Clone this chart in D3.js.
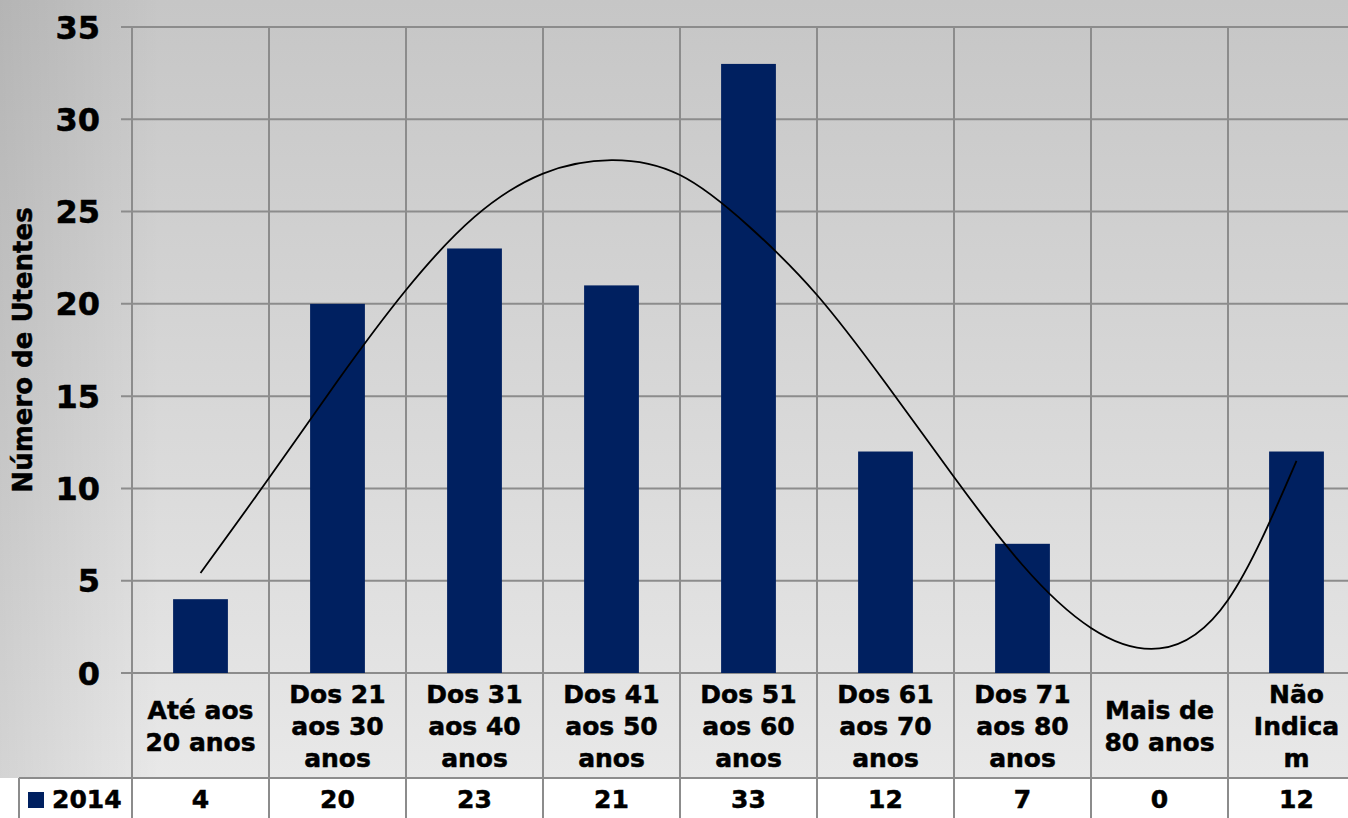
<!DOCTYPE html>
<html>
<head>
<meta charset="utf-8">
<script src="https://cdn.jsdelivr.net/npm/d3@7"></script>
<style>
  html, body { margin: 0; padding: 0; background: #fff; }
  svg { display: block; font-family: "DejaVu Sans", Verdana, sans-serif; font-weight: bold; }
  svg text { stroke: #000; stroke-width: 0.5px; }
</style>
</head>
<body>
<svg id="chart" width="1348" height="818"></svg>
<script>
// dados
const categories = [
    ["Até aos", "20 anos"],
    ["Dos 21", "aos 30", "anos"],
    ["Dos 31", "aos 40", "anos"],
    ["Dos 41", "aos 50", "anos"],
    ["Dos 51", "aos 60", "anos"],
    ["Dos 61", "aos 70", "anos"],
    ["Dos 71", "aos 80", "anos"],
    ["Mais de", "80 anos"],
    ["Não", "Indica", "m"]
];
const seriesName = "2014";
const values2014 = [4, 20, 23, 21, 33, 12, 7, 0, 12];
const yTicks = [0, 5, 10, 15, 20, 25, 30, 35];
const yTitle = "Número de Utentes";

// linha de tendência (posição em categorias, valor)
const trendPos = [0, 0.5, 1, 1.5, 2, 2.5, 3, 3.5, 4, 4.5, 5, 5.5, 6, 6.5, 7, 7.5, 8];
const trendVals = [5.42, 10.56, 15.82, 20.75, 24.71, 27.06, 27.79, 26.98, 24.22,
                   20.48, 15.71, 10.62, 5.85, 2.44, 1.33, 3.96, 11.49];

function drawChart(svgId) {
    const svg = d3.select(`#${svgId}`);
    const width = +svg.attr("width");
    const height = +svg.attr("height");

    const plotLeft = 132, plotTop = 27, plotBottom = 673;
    const catStep = 137;
    const tableTop = 778;
    const tableLeft = 19;
    const gridColor = "#8c8c8c";

    const defs = svg.append("defs");
    const bg = defs.append("linearGradient").attr("id", "bgGrad")
        .attr("x1", 0).attr("y1", 0).attr("x2", 0).attr("y2", 1);
    bg.append("stop").attr("offset", "0%").attr("stop-color", "#c6c6c6");
    bg.append("stop").attr("offset", "100%").attr("stop-color", "#e8e8e8");
    const side = defs.append("linearGradient").attr("id", "sideGrad")
        .attr("x1", 0).attr("y1", 0).attr("x2", 1).attr("y2", 0);
    side.append("stop").attr("offset", "0%").attr("stop-color", "#000").attr("stop-opacity", 0.09);
    side.append("stop").attr("offset", "100%").attr("stop-color", "#000").attr("stop-opacity", 0);

    // fundo
    svg.append("rect").attr("x", 0).attr("y", 0).attr("width", width).attr("height", tableTop)
        .attr("fill", "url(#bgGrad)");
    svg.append("rect").attr("x", 0).attr("y", 0).attr("width", 160).attr("height", tableTop)
        .attr("fill", "url(#sideGrad)");
    svg.append("rect").attr("x", 0).attr("y", tableTop).attr("width", width).attr("height", height - tableTop)
        .attr("fill", "#fff");

    const x = d3.scaleBand()
        .domain(d3.range(categories.length))
        .range([plotLeft, plotLeft + catStep * categories.length])
        .padding(0);
    const bw = x.bandwidth();

    const y = d3.scaleLinear()
        .domain([0, 35])
        .range([plotBottom, plotTop]);

    const xt = d3.scaleLinear()
        .domain([0, categories.length - 1])
        .range([x(0) + bw / 2, x(categories.length - 1) + bw / 2]);

    // grelha horizontal
    svg.selectAll(".hgrid")
        .data(yTicks)
        .enter()
        .append("line")
        .attr("class", "hgrid")
        .attr("x1", plotLeft - 11)
        .attr("x2", width)
        .attr("y1", d => y(d))
        .attr("y2", d => y(d))
        .style("stroke", gridColor)
        .style("stroke-width", 2);

    // grelha vertical (atravessa etiquetas e tabela)
    svg.selectAll(".vgrid")
        .data(d3.range(categories.length))
        .enter()
        .append("line")
        .attr("class", "vgrid")
        .attr("x1", d => x(d))
        .attr("x2", d => x(d))
        .attr("y1", plotTop)
        .attr("y2", height)
        .style("stroke", gridColor)
        .style("stroke-width", 2);

    // tabela de dados
    svg.append("line")
        .attr("x1", tableLeft).attr("x2", width)
        .attr("y1", tableTop).attr("y2", tableTop)
        .style("stroke", gridColor).style("stroke-width", 2);
    svg.append("line")
        .attr("x1", tableLeft).attr("x2", tableLeft)
        .attr("y1", tableTop).attr("y2", height)
        .style("stroke", gridColor).style("stroke-width", 2);

    // barras
    const barW = bw * 0.4;
    svg.selectAll(".bar")
        .data(values2014)
        .enter()
        .append("rect")
        .attr("class", "bar")
        .attr("x", (d, i) => x(i) + (bw - barW) / 2)
        .attr("y", d => y(d))
        .attr("width", barW)
        .attr("height", d => y(0) - y(d))
        .style("fill", "#002060");

    // tendência
    const line = d3.line()
        .x((d, i) => xt(trendPos[i]))
        .y(d => y(d))
        .curve(d3.curveNatural);

    svg.append("path")
        .datum(trendVals)
        .attr("d", line)
        .style("fill", "none")
        .style("stroke", "#000")
        .style("stroke-width", 1.8);

    // etiquetas eixo y
    svg.selectAll(".ytick")
        .data(yTicks)
        .enter()
        .append("text")
        .attr("class", "ytick")
        .attr("x", 100)
        .attr("y", d => y(d))
        .attr("dy", "0.36em")
        .style("text-anchor", "end")
        .style("font-size", "32px")
        .style("fill", "#000")
        .text(d => d);

    svg.append("text")
        .attr("transform", `translate(32,${(plotTop + plotBottom) / 2}) rotate(-90)`)
        .style("text-anchor", "middle")
        .style("font-size", "26px")
        .style("fill", "#000")
        .text(yTitle);

    // etiquetas das categorias
    const lineH = 32;
    const midBase = 735;
    const cat = svg.selectAll(".cat")
        .data(categories)
        .enter()
        .append("text")
        .attr("class", "cat")
        .style("text-anchor", "middle")
        .style("font-size", "25px")
        .style("fill", "#000");

    cat.each(function (lines, i) {
        const t = d3.select(this);
        lines.forEach((s, k) => {
            t.append("tspan")
                .attr("x", x(i) + bw / 2)
                .attr("y", midBase + (k - (lines.length - 1) / 2) * lineH)
                .text(s);
        });
    });

    // linha da tabela
    svg.append("rect")
        .attr("x", 28).attr("y", 792)
        .attr("width", 16).attr("height", 16)
        .style("fill", "#002060");
    svg.append("text")
        .attr("x", 52).attr("y", 808)
        .style("font-size", "25px")
        .style("fill", "#000")
        .text(seriesName);

    svg.selectAll(".tval")
        .data(values2014)
        .enter()
        .append("text")
        .attr("class", "tval")
        .attr("x", (d, i) => x(i) + bw / 2)
        .attr("y", 808)
        .style("text-anchor", "middle")
        .style("font-size", "25px")
        .style("fill", "#000")
        .text(d => d);
}

drawChart("chart");
</script>
</body>
</html>
